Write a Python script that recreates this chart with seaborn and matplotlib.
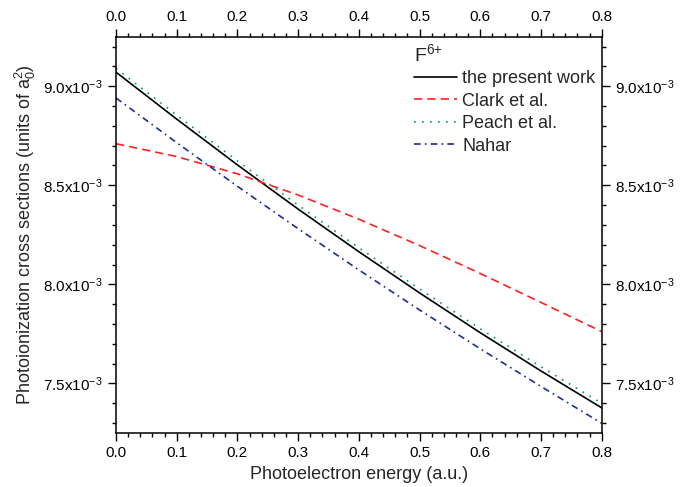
import matplotlib
matplotlib.use("Agg")
import matplotlib.pyplot as plt
from matplotlib.ticker import MultipleLocator, FuncFormatter
import numpy as np
import pandas as pd
import seaborn as sns

# photoelectron energy (a.u.)
energy = [0.0, 0.1, 0.2, 0.3, 0.4, 0.5, 0.6, 0.7, 0.8]

# cross sections, in units of 1e-3 a0^2
present = [9.071, 8.834, 8.603, 8.380, 8.165, 7.957, 7.756, 7.563, 7.377]
clark = [8.710, 8.645, 8.558, 8.451, 8.329, 8.196, 8.055, 7.909, 7.762]
peach = [9.090, 8.854, 8.623, 8.400, 8.185, 7.977, 7.776, 7.584, 7.400]
nahar = [8.941, 8.715, 8.495, 8.281, 8.073, 7.871, 7.675, 7.485, 7.299]

series_names = ["the present work", "Clark et al.", "Peach et al.", "Nahar"]
series_colors = ["#000000", "#ff2020", "#00a050", "#1f2c98"]
series_styles = ["-", (0, (5, 3)), (0, (1, 3.8)), (0, (4, 2.5, 1, 2.5))]

sns.set_style("ticks")
plt.rcParams["font.family"] = ["Liberation Sans", "DejaVu Sans"]
plt.rcParams["mathtext.fontset"] = "custom"
plt.rcParams["mathtext.rm"] = "Liberation Sans"
plt.rcParams["mathtext.it"] = "Liberation Sans"

fig = plt.figure(figsize=(6.84, 4.87), dpi=100)
ax = fig.add_axes([116 / 684, 1 - 433 / 487, (601.7 - 116) / 684, (433 - 36.7) / 487])

for name, vals, col, ls in zip(series_names, [present, clark, peach, nahar],
                               series_colors, series_styles):
    df = pd.DataFrame({"energy": energy, "sigma": np.array(vals) * 1e-3})
    sns.lineplot(data=df, x="energy", y="sigma", ax=ax, color=col,
                 linestyle=ls, linewidth=1.2, label=name)

ax.set_xlim(0, 0.8)
ax.set_ylim(7.25e-3, 9.25e-3)
ax.xaxis.set_major_locator(MultipleLocator(0.1))
ax.xaxis.set_minor_locator(MultipleLocator(0.02))
ax.yaxis.set_major_locator(MultipleLocator(0.5e-3))
ax.yaxis.set_minor_locator(MultipleLocator(0.1e-3))
ax.xaxis.set_major_formatter(FuncFormatter(lambda v, p: f"{v:.1f}"))
ax.yaxis.set_major_formatter(FuncFormatter(lambda v, p: f"{v * 1e3:.1f}x10$^{{-3}}$"))

ax.tick_params(which="both", direction="out", top=True, right=True,
               labeltop=True, labelright=True, labelsize=11, width=1, colors="black")
ax.tick_params(which="major", length=6)
ax.tick_params(which="minor", length=3.2)
for s in ax.spines.values():
    s.set_visible(True)
    s.set_linewidth(1.1)
    s.set_color("black")

ax.set_xlabel("Photoelectron energy (a.u.)", fontsize=13)
ax.set_ylabel("Photoionization cross sections (units of a$_0^2$)", fontsize=13)

leg = ax.legend(title="F$^{6{+}}$", loc="upper right", frameon=False, fontsize=13,
                title_fontsize=14, handlelength=2.35, handletextpad=0.3,
                labelspacing=0.3, borderaxespad=0.05, borderpad=0.3,
                alignment="left")

fig.savefig("out.png", dpi=100)
